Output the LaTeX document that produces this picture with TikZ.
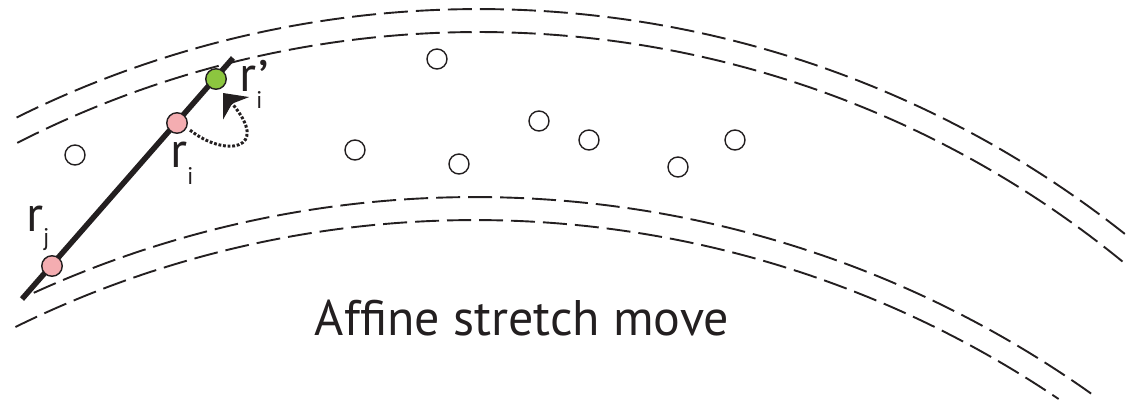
\documentclass[tikz,border=0pt]{standalone}
\usepackage{fontspec}
\setmainfont{PT Sans}
\usetikzlibrary{arrows.meta}
\definecolor{ink}{HTML}{231F20}
\definecolor{pinkpt}{HTML}{F4ADB1}
\definecolor{greenpt}{HTML}{8CC63F}
\newcommand{\subtxt}[1]{{\fontsize{24}{24}\selectfont #1}}
\begin{document}
\begin{tikzpicture}[x=1pt,y=1pt,
  guide/.style={line width=1.9pt, dash pattern=on 24pt off 8pt, draw=ink},
  walker/.style={circle, draw=ink, line width=1.4pt, minimum size=20pt, inner sep=0pt, fill=white},
  chosen/.style={walker, fill=pinkpt, minimum size=20.5pt},
  proposal/.style={walker, fill=greenpt, minimum size=20.5pt},
  lbl/.style={inner sep=0pt, anchor=base west, text=ink, font=\fontsize{50}{50}\selectfont},
  stretchline/.style={line width=5.5pt, draw=ink},
  hop/.style={line width=3pt, draw=ink, dash pattern=on 2.8pt off 1.8pt,
    -{Stealth[length=20pt,width=34pt,inset=6pt]}}
]
\useasboundingbox (0,0) rectangle (1145,-406);

% centres of the two families of arcs
\coordinate (cu) at (479,-1049);
\coordinate (cl) at (475,-1261);

% upper pair of dashed arcs
\draw[guide] (cu) ++(116.4:1040pt) arc[start angle=116.4, end angle=51.4, radius=1040pt];
\draw[guide] (cu) ++(117.0:1017pt) arc[start angle=117.0, end angle=50.5, radius=1017pt];
% lower pair of dashed arcs
\draw[guide] (cl) ++(114.5:1064pt) arc[start angle=114.5, end angle=54.2, radius=1064pt];
\draw[guide] (cl) ++(116.2:1041pt) arc[start angle=116.2, end angle=55.9, radius=1041pt];

% other walkers
\node[walker] (w1) at (75,-155) {};
\node[walker] (w2) at (437,-59) {};
\node[walker] (w3) at (355,-150) {};
\node[walker] (w4) at (459,-164) {};
\node[walker] (w5) at (539,-121) {};
\node[walker] (w6) at (589,-140) {};
\node[walker] (w7) at (678,-167) {};
\node[walker] (w8) at (735,-140) {};

% stretch line through r_j and r_i
\coordinate (lowend) at (22,-299);
\coordinate (highend) at (233,-58);
\draw[stretchline] (lowend) -- (highend);

\node[chosen] (rj) at (52,-266) {};
\node[chosen] (ri) at (177,-123) {};
\node[proposal] (rip) at (216,-79) {};

% proposal move
\coordinate (tip) at (223,-93);
\draw[hop, shorten <=4pt] (ri.-25) .. controls (225,-158) and (272,-150) .. (tip);

% labels
\node[lbl] (lrip) at (239,-92) {r\rlap{\raisebox{-17pt}{\subtxt{i}}}\kern2pt\raisebox{-7pt}{\fontsize{54}{54}\selectfont ’}};
\node[lbl] (lri) at (170,-168) {r\raisebox{-17pt}{\subtxt{i}}};
\node[lbl] (lrj) at (26,-231) {r\raisebox{-14pt}{\subtxt{j}}};

\node[inner sep=0pt, anchor=base, text=ink, font=\fontsize{50}{50}\selectfont] (title) at (522,-335) {Affine stretch move};
\end{tikzpicture}
\end{document}
